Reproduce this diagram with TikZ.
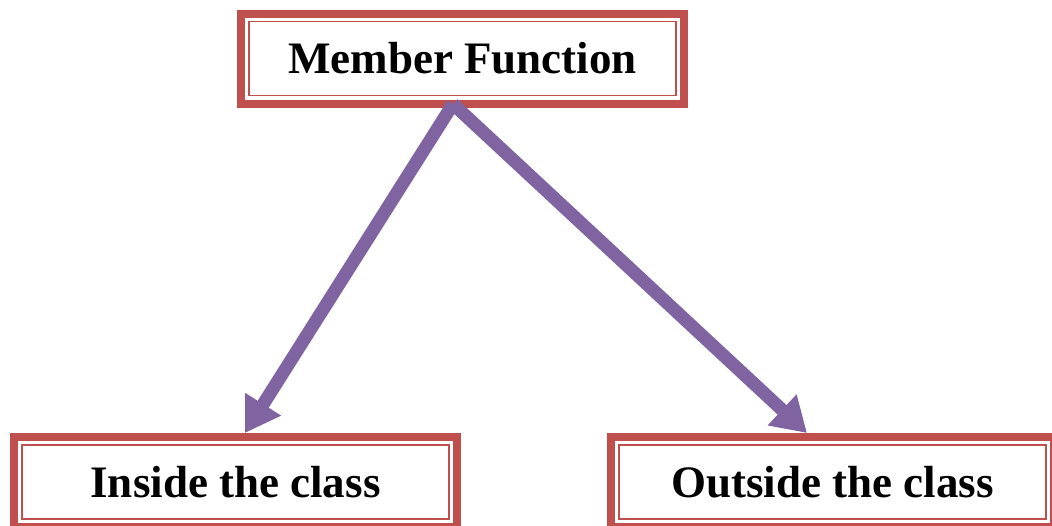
\documentclass[tikz,border=0pt]{standalone}
\usepackage{fontspec}
\setmainfont{Liberation Serif}
\usetikzlibrary{arrows.meta}
\definecolor{boxred}{HTML}{C0504D}
\definecolor{arrowpurple}{HTML}{8064A2}
\begin{document}
\begin{tikzpicture}[x=1pt,y=1pt,
  framebox/.style={draw=boxred, line width=8pt, fill=white,
    minimum width=443pt, minimum height=90pt, inner sep=0pt,
    font=\fontsize{45}{54}\selectfont\bfseries},
  innerframe/.style={draw=boxred, line width=1.8pt},
  branch/.style={draw=arrowpurple, line width=13pt, line cap=butt,
    -{Triangle[length=34pt,width=40pt]}}]
  \useasboundingbox (0,0) rectangle (1052,-525);

  % the three boxes
  \node[framebox] (member)  at (462.5,-58.5) {Member Function};
  \node[framebox] (inside)  at (235.5,-482)  {Inside the class};
  \node[framebox] (outside) at (832.5,-482)  {Outside the class};

  % thin inner frame of each box (anchors sit on the outer edge)
  \foreach \n in {member,inside,outside}{
    \draw[innerframe] ([shift={(12pt,-12pt)}]\n.north west)
      rectangle ([shift={(-12pt,12pt)}]\n.south east);
  }

  % branches from the member function box
  \coordinate (apex) at (453,-104);
  \draw[branch] (apex) -- ([xshift=9.5pt]inside.north);
  \draw[branch] (apex) -- ([xshift=-25.5pt]outside.north);
\end{tikzpicture}
\end{document}
